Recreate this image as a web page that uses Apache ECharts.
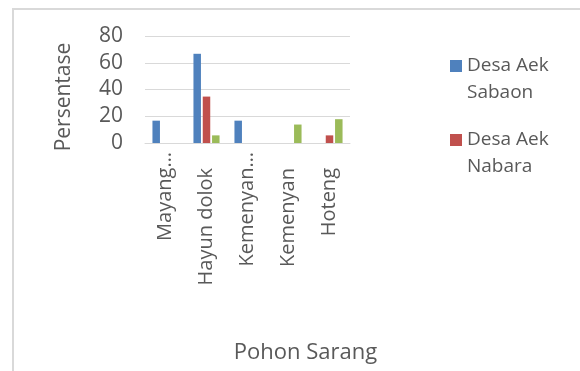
<!DOCTYPE html>
<html>
<head>
<meta charset="utf-8">
<style>
  html, body { margin: 0; padding: 0; background: #ffffff; }
  #chart { width: 580px; height: 371px; }
</style>
<script src="https://cdn.jsdelivr.net/npm/echarts@6/dist/echarts.min.js"></script>
</head>
<body>
<div id="chart"></div>
<script>
// Nest-tree categories and percentage per village
const categories = ['Mayang…', 'Hayun dolok', 'Kemenyan…', 'Kemenyan', 'Hoteng'];
const desaAekSabaon = [16.7, 66.7, 16.7, 0, 0];
const desaAekNabara = [0, 34.7, 0, 0, 5.7];
const desaKetiga = [0, 5.7, 0, 13.8, 17.8];
const yTicks = { min: 0, max: 80, interval: 20 };

const FONT = '"Open Sans", "Noto Sans", sans-serif';
const GREY_TEXT = '#595959';
const GRID_LINE = '#d9d9d9';

const chart = echarts.init(document.getElementById('chart'), null, { renderer: 'canvas' });

chart.setOption({
  animation: false,
  backgroundColor: '#ffffff',
  grid: { left: 145, right: 230, top: 36, bottom: 228, containLabel: false },
  legend: {
    orient: 'vertical',
    left: 450,
    top: 25.5,
    padding: 0,
    itemGap: -7,
    itemWidth: 12,
    itemHeight: 12,
    icon: 'rect',
    selectedMode: false,
    data: ['Desa Aek Sabaon', 'Desa Aek Nabara'],
    formatter: name => '\n' + name.replace(' Aek ', ' Aek\n'),
    textStyle: { fontFamily: FONT, fontSize: 19, lineHeight: 27, color: GREY_TEXT }
  },
  xAxis: {
    type: 'category',
    data: categories,
    axisLine: { show: true, lineStyle: { color: GRID_LINE, width: 1 } },
    axisTick: { show: false },
    axisLabel: {
      interval: 0,
      rotate: 90,
      margin: 9,
      fontFamily: FONT,
      fontSize: 20,
      color: GREY_TEXT,
      formatter: v => v.endsWith('…') ? v : '{p|' + v + '}',
      rich: {
        p: { fontFamily: FONT, fontSize: 20, color: GREY_TEXT, padding: [0, 16, 0, 0] }
      }
    }
  },
  yAxis: {
    type: 'value',
    min: yTicks.min,
    max: yTicks.max,
    interval: yTicks.interval,
    axisLine: { show: false },
    axisTick: { show: false },
    splitLine: { show: true, lineStyle: { color: GRID_LINE, width: 1 } },
    axisLabel: { margin: 22, fontFamily: FONT, fontSize: 21, color: GREY_TEXT }
  },
  series: [
    {
      name: 'Desa Aek Sabaon', type: 'bar', data: desaAekSabaon,
      barWidth: 7.5, barGap: '24%',
      itemStyle: { color: '#4f81bd' }
    },
    {
      name: 'Desa Aek Nabara', type: 'bar', data: desaAekNabara,
      barWidth: 7.5, barGap: '24%',
      itemStyle: { color: '#c0504d' }
    },
    {
      name: 'Desa Ketiga', type: 'bar', data: desaKetiga,
      barWidth: 7.5, barGap: '24%',
      itemStyle: { color: '#9bbb59' }
    }
  ],
  graphic: [
    {
      // chart-area frame
      type: 'rect',
      silent: true,
      shape: { x: 13, y: 9, width: 700, height: 500 },
      style: { fill: 'none', stroke: GRID_LINE, lineWidth: 2 }
    },
    {
      type: 'text',
      x: 64, y: 97,
      rotation: Math.PI / 2,
      style: {
        text: 'Persentase', fontFamily: FONT, fontSize: 21, fill: GREY_TEXT,
        align: 'center', verticalAlign: 'middle'
      }
    },
    {
      type: 'text',
      x: 305.5, y: 353,
      style: {
        text: 'Pohon Sarang', fontFamily: FONT, fontSize: 22, fill: GREY_TEXT,
        align: 'center', verticalAlign: 'middle'
      }
    }
  ]
});
</script>
</body>
</html>
